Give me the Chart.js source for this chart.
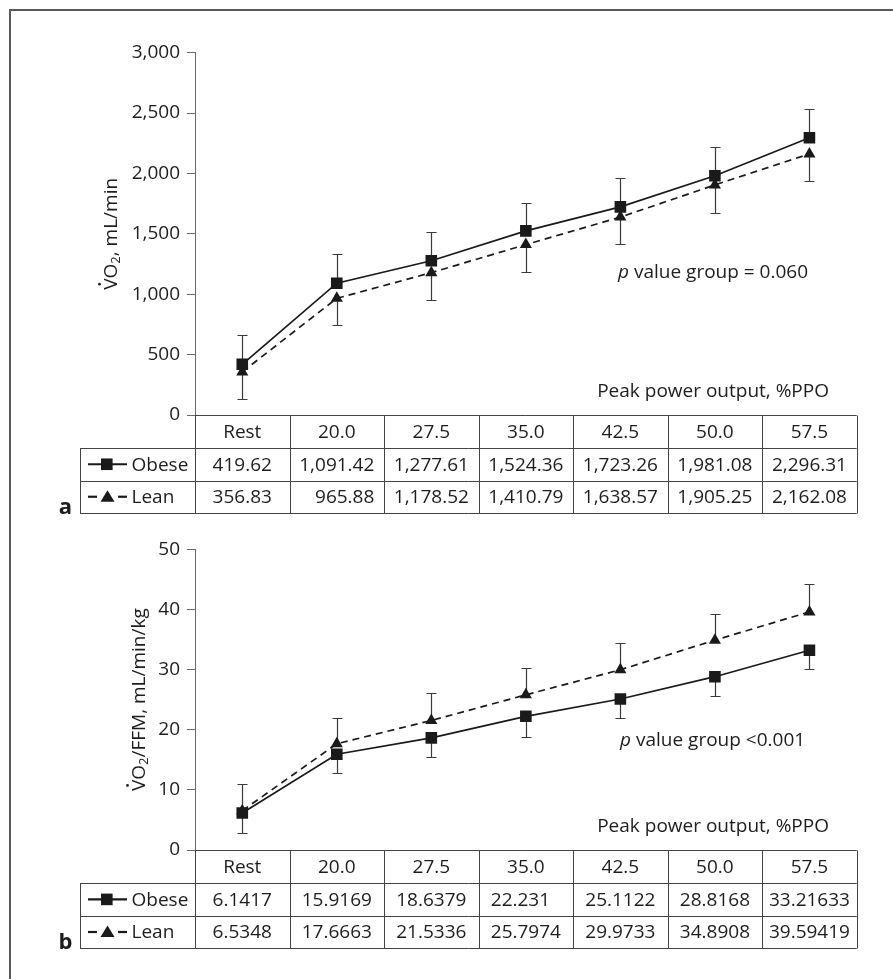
<!DOCTYPE html>
<html>
<head>
<meta charset="utf-8">
<script src="https://cdn.jsdelivr.net/npm/chart.js@4"></script>
<style>
  body { margin: 0; background: #fff; }
  #frame { position: absolute; left: 9px; top: 9px; width: 884px; height: 970px;
           border-left: 2px solid #5a5a5a; border-top: 2px solid #5a5a5a; }
  canvas { position: absolute; left: 0; }
</style>
</head>
<body>
<div id="frame"></div>
<canvas id="chartA" width="893" height="530" style="top:0px"></canvas>
<canvas id="chartB" width="893" height="449" style="top:530px"></canvas>
<script>
// ---- data ----
const categories = ['Rest', '20.0', '27.5', '35.0', '42.5', '50.0', '57.5'];

// panel a: VO2, mL/min
const obeseVO2 = [419.62, 1091.42, 1277.61, 1524.36, 1723.26, 1981.08, 2296.31];
const leanVO2 = [356.83, 965.88, 1178.52, 1410.79, 1638.57, 1905.25, 2162.08];
const obeseVO2Sd = [242, 242, 240, 229, 242, 235, 235];
const leanVO2Sd = [222, 221, 227, 224, 226, 230, 222];
const ticksA = [0, 500, 1000, 1500, 2000, 2500, 3000];

// panel b: VO2/FFM, mL/min/kg
const obeseFFM = [6.1417, 15.9169, 18.6379, 22.231, 25.1122, 28.8168, 33.21633];
const leanFFM = [6.5348, 17.6663, 21.5336, 25.7974, 29.9733, 34.8908, 39.59419];
const obeseFFMSd = [3.26, 3.17, 3.22, 3.39, 3.2, 3.16, 3.17];
const leanFFMSd = [4.4, 4.24, 4.53, 4.5, 4.4, 4.36, 4.59];
const ticksB = [0, 10, 20, 30, 40, 50];

const FONT = '"Open Sans", "Noto Sans", sans-serif';
const FS = 19;
const INK = '#1f1c1d';

// error bars, drawn under the markers
const errorBars = {
  id: 'errorBars',
  beforeDatasetsDraw(chart) {
    const { ctx, scales: { x, y } } = chart;
    ctx.save();
    ctx.strokeStyle = '#3a3a3a';
    ctx.lineWidth = 1.2;
    chart.data.datasets.forEach(ds => {
      ds.data.forEach((v, i) => {
        const px = Math.round(x.getPixelForValue(i)) + 0.5;
        const py = y.getPixelForValue(v);
        const end = Math.round(y.getPixelForValue(v + ds.sdDir * ds.sd[i])) + 0.5;
        ctx.beginPath();
        ctx.moveTo(px, py);
        ctx.lineTo(px, end);
        ctx.moveTo(px - 5, end);
        ctx.lineTo(px + 5, end);
        ctx.stroke();
      });
    });
    ctx.restore();
  }
};

function line(ctx, x1, y1, x2, y2) {
  ctx.beginPath();
  ctx.moveTo(x1, y1);
  ctx.lineTo(x2, y2);
  ctx.stroke();
}

// data table under the x axis + texts
const dataTable = {
  id: 'dataTable',
  afterDraw(chart, args, opts) {
    const { ctx, chartArea, scales: { x } } = chart;
    const step = x.getPixelForValue(1) - x.getPixelForValue(0);
    const left = chartArea.left, right = chartArea.right;
    const top = Math.round(chartArea.bottom) + 0.5;
    const rowH = opts.rowH, legL = opts.legendLeft;
    ctx.save();

    // grid
    ctx.strokeStyle = '#444';
    ctx.lineWidth = 1;
    line(ctx, left, top, right, top);
    for (let r = 1; r <= 3; r++) {
      const yy = Math.round(top + r * rowH) + 0.5;
      line(ctx, legL, yy, right, yy);
    }
    for (let k = 0; k <= categories.length; k++) {
      const xx = Math.round(left + k * step) + 0.5;
      line(ctx, xx, top, xx, Math.round(top + 3 * rowH) + 0.5);
    }
    line(ctx, legL + 0.5, Math.round(top + rowH) + 0.5, legL + 0.5, Math.round(top + 3 * rowH) + 0.5);

    // header and values
    ctx.fillStyle = INK;
    ctx.font = FS + 'px ' + FONT;
    ctx.textBaseline = 'middle';
    categories.forEach((c, i) => {
      ctx.textAlign = 'center';
      ctx.fillText(c, x.getPixelForValue(i), top + rowH / 2 + 1);
      const a = opts.fmt(chart.data.datasets[0].data[i]);
      const b = opts.fmt(chart.data.datasets[1].data[i]);
      const w = Math.max(ctx.measureText(a).width, ctx.measureText(b).width);
      const cx = x.getPixelForValue(i);
      let tx;
      if (opts.align === 'right') { ctx.textAlign = 'right'; tx = cx + w / 2; }
      else { ctx.textAlign = 'left'; tx = cx - w / 2; }
      ctx.fillText(a, tx, top + rowH * 1.5 + 1);
      ctx.fillText(b, tx, top + rowH * 2.5 + 1);
    });

    // legend cells
    const y1 = top + rowH * 1.5, y2 = top + rowH * 2.5;
    ctx.strokeStyle = '#1a1a1a';
    ctx.fillStyle = '#1a1a1a';
    ctx.lineWidth = 2.2;
    line(ctx, 88, y1, 127, y1);
    ctx.fillRect(101, y1 - 5.8, 11.6, 11.6);
    line(ctx, 88, y2, 97, y2);
    line(ctx, 118, y2, 127, y2);
    ctx.beginPath();
    ctx.moveTo(107.5, y2 - 6.5);
    ctx.lineTo(114.5, y2 + 5);
    ctx.lineTo(100.5, y2 + 5);
    ctx.closePath();
    ctx.fill();
    ctx.fillStyle = INK;
    ctx.textAlign = 'left';
    ctx.fillText('Obese', 131.5, y1 + 1);
    ctx.fillText('Lean', 131.5, y2 + 1);

    // x axis title
    ctx.textAlign = 'right';
    ctx.fillText('Peak power output, %PPO', 829, chartArea.bottom - 23);

    // p value
    ctx.textAlign = 'left';
    ctx.font = 'italic ' + FS + 'px ' + FONT;
    ctx.fillText('p', opts.pX, opts.pY);
    const pw = ctx.measureText('p').width;
    ctx.font = FS + 'px ' + FONT;
    ctx.fillText(opts.pText, opts.pX + pw + 5, opts.pY);

    // panel letter
    ctx.font = 'bold 22px ' + FONT;
    ctx.textBaseline = 'alphabetic';
    ctx.textAlign = 'center';
    ctx.fillText(opts.letter, 65.5, Math.round(top + 3 * rowH) + 1);

    // y axis title, rotated
    ctx.translate(opts.titleX, (chartArea.top + chartArea.bottom) / 2);
    ctx.rotate(-Math.PI / 2);
    ctx.font = FS + 'px ' + FONT;
    const wV = ctx.measureText('V').width;
    const wVO = ctx.measureText('VO').width;
    ctx.font = '13px ' + FONT;
    const w2 = ctx.measureText('2').width;
    ctx.font = FS + 'px ' + FONT;
    const wRest = ctx.measureText(opts.titleRest).width;
    const sx = -(wVO + w2 + wRest) / 2;
    const base = 7;
    ctx.textAlign = 'left';
    ctx.fillText('VO', sx, base);
    ctx.beginPath();
    ctx.arc(sx + wV / 2, base - 17.5, 1.4, 0, Math.PI * 2);
    ctx.fill();
    ctx.font = '13px ' + FONT;
    ctx.fillText('2', sx + wVO, base + 3);
    ctx.font = FS + 'px ' + FONT;
    ctx.fillText(opts.titleRest, sx + wVO + w2, base);
    ctx.restore();
  }
};

function makeChart(id, obese, lean, obeseSd, leanSd, obeseDir, ticks, pad, tableOpts) {
  return new Chart(document.getElementById(id), {
    type: 'line',
    data: {
      labels: categories,
      datasets: [{
        label: 'Obese',
        data: obese,
        sd: obeseSd,
        sdDir: obeseDir,
        borderColor: '#1a1a1a',
        backgroundColor: '#1a1a1a',
        borderWidth: 1.7,
        pointStyle: 'rect',
        pointRadius: 8.2,
        pointBorderWidth: 0,
        tension: 0
      }, {
        label: 'Lean',
        data: lean,
        sd: leanSd,
        sdDir: -obeseDir,
        borderColor: '#1a1a1a',
        backgroundColor: '#1a1a1a',
        borderWidth: 1.7,
        borderDash: [7, 5],
        pointStyle: 'triangle',
        pointRadius: 7,
        pointBorderWidth: 0,
        tension: 0
      }]
    },
    options: {
      responsive: false,
      animation: false,
      layout: { padding: pad },
      plugins: {
        legend: { display: false },
        tooltip: { enabled: false },
        dataTable: tableOpts
      },
      scales: {
        x: { display: false, offset: true },
        y: {
          min: ticks[0],
          max: ticks[ticks.length - 1],
          afterBuildTicks: s => { s.ticks = ticks.map(v => ({ value: v })); },
          afterFit: s => { s.width = 195; },
          ticks: {
            padding: 7,
            color: INK,
            font: { family: FONT, size: FS },
            callback: v => v.toLocaleString('en-US')
          },
          grid: { drawOnChartArea: false, drawTicks: true, tickLength: 8, color: '#6a6a6a' },
          border: { color: '#6a6a6a', width: 1 }
        }
      }
    },
    plugins: [errorBars, dataTable]
  });
}

makeChart('chartA', obeseVO2, leanVO2, obeseVO2Sd, leanVO2Sd, 1, ticksA,
  { left: 0, right: 36.3, top: 52.7, bottom: 115 },
  {
    rowH: 32.5, legendLeft: 80, align: 'right', letter: 'a',
    fmt: v => v.toLocaleString('en-US', { minimumFractionDigits: 2, maximumFractionDigits: 2 }),
    pX: 618, pY: 273, pText: 'value group = 0.060',
    titleX: 110, titleRest: ', mL/min'
  });

makeChart('chartB', obeseFFM, leanFFM, obeseFFMSd, leanFFMSd, -1, ticksB,
  { left: 0, right: 36.3, top: 19.3, bottom: 129 },
  {
    rowH: 32.6, legendLeft: 80, align: 'left', letter: 'b',
    fmt: v => String(v),
    pX: 620, pY: 210.7, pText: 'value group <0.001',
    titleX: 138, titleRest: '/FFM, mL/min/kg'
  });
</script>
</body>
</html>
